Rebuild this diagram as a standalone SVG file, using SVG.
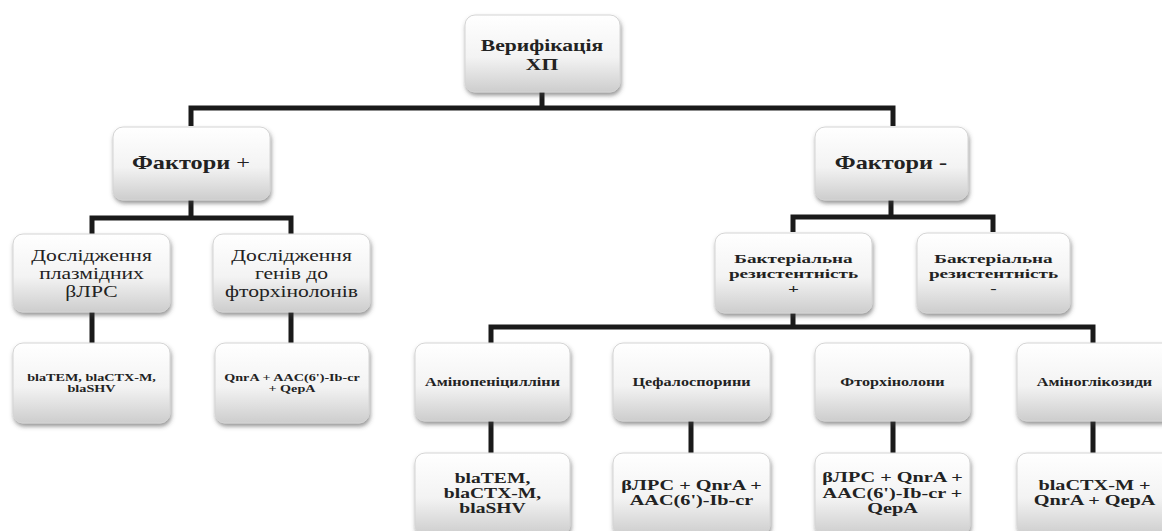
<svg xmlns="http://www.w3.org/2000/svg" width="1162" height="531" viewBox="0 0 1162 531">
<style>
.box{fill:url(#g);stroke:#d4d4d4;stroke-width:1;filter:url(#sh)}
.t{font-family:"Liberation Serif","Times New Roman",serif;fill:#222;text-anchor:middle}
.b{font-weight:bold}
.c{fill:none;stroke:#1a1a1a;stroke-width:5;stroke-linejoin:miter;stroke-linecap:butt}
</style>
<defs>
<linearGradient id="g" x1="0" y1="0" x2="0" y2="1">
<stop offset="0" stop-color="#ffffff"/>
<stop offset="0.55" stop-color="#f3f3f3"/>
<stop offset="1" stop-color="#cdcdcd"/>
</linearGradient>
<filter id="sh" x="-10%" y="-10%" width="120%" height="130%">
<feDropShadow dx="1" dy="3" stdDeviation="2" flood-color="#444" flood-opacity="0.55"/>
</filter>
</defs>
<rect width="1162" height="531" fill="#ffffff"/>
<g id="connectors">
<path class="c" d="M542 92V108M191 126V108H893V126"/>
<path class="c" d="M191 200V218M92 234V218H291V234"/>
<path class="c" d="M891 200V217M793 232V217H993V232"/>
<path class="c" d="M92 312V343M291 312V343"/>
<path class="c" d="M793 313V327M491 343V327H1093V343"/>
<path class="c" d="M491 421V453M691 421V453M893 421V453M1093 421V453"/>
</g>
<g id="n_root">
<rect class="box" x="465" y="15" width="155" height="77" rx="10"/>
<text class="t b" font-size="16" transform="translate(542 0) scale(1.35 1)"><tspan x="0" y="51">Верифікація</tspan><tspan x="0" y="70">ХП</tspan></text>
</g>
<g id="n_fplus">
<rect class="box" x="113" y="127" width="157" height="73" rx="10"/>
<text class="t" font-size="18" transform="translate(191 0) scale(1.35 1)"><tspan x="0" y="169"><tspan class="b">Фактори</tspan> +</tspan></text>
</g>
<g id="n_fminus">
<rect class="box" x="815" y="127" width="153" height="73" rx="10"/>
<text class="t b" font-size="18" transform="translate(891 0) scale(1.35 1)"><tspan x="0" y="169">Фактори -</tspan></text>
</g>
<g id="n_res1">
<rect class="box" x="13" y="234" width="157" height="78" rx="10"/>
<text class="t" font-size="16" transform="translate(91.5 0) scale(1.35 1)"><tspan x="0" y="261">Дослідження</tspan><tspan x="0" y="279">плазмідних</tspan><tspan x="0" y="297">βЛРС</tspan></text>
</g>
<g id="n_res2">
<rect class="box" x="213" y="234" width="157" height="78" rx="10"/>
<text class="t" font-size="16" transform="translate(291.5 0) scale(1.35 1)"><tspan x="0" y="261">Дослідження</tspan><tspan x="0" y="279">генів до</tspan><tspan x="0" y="297">фторхінолонів</tspan></text>
</g>
<g id="n_bp">
<rect class="box" x="715" y="233" width="157" height="80" rx="10"/>
<text class="t b" font-size="13.5" transform="translate(793.5 0) scale(1.42 1)"><tspan x="0" y="263">Бактеріальна</tspan><tspan x="0" y="278">резистентність</tspan><tspan x="0" y="293">+</tspan></text>
</g>
<g id="n_bm">
<rect class="box" x="917" y="233" width="153" height="80" rx="10"/>
<text class="t b" font-size="13.5" transform="translate(993.5 0) scale(1.42 1)"><tspan x="0" y="263">Бактеріальна</tspan><tspan x="0" y="278">резистентність</tspan><tspan x="0" y="293">-</tspan></text>
</g>
<g id="n_bla1">
<rect class="box" x="13" y="343" width="157" height="80" rx="10"/>
<text class="t b" font-size="10.5" transform="translate(91.5 0) scale(1.35 1)"><tspan x="0" y="381">blaTEM, blaCTX-M,</tspan><tspan x="0" y="392">blaSHV</tspan></text>
</g>
<g id="n_q1">
<rect class="box" x="215" y="343" width="154" height="80" rx="10"/>
<text class="t b" font-size="10.5" transform="translate(292 0) scale(1.35 1)"><tspan x="0" y="381">QnrA + AAC(6')-Ib-cr</tspan><tspan x="0" y="392">+ QepA</tspan></text>
</g>
<g id="n_amp">
<rect class="box" x="415" y="343" width="155" height="78" rx="10"/>
<text class="t b" font-size="12" transform="translate(492.5 0) scale(1.35 1)"><tspan x="0" y="386">Амінопеніцилліни</tspan></text>
</g>
<g id="n_ceph">
<rect class="box" x="613" y="343" width="157" height="78" rx="10"/>
<text class="t b" font-size="12" transform="translate(691.5 0) scale(1.35 1)"><tspan x="0" y="386">Цефалоспорини</tspan></text>
</g>
<g id="n_fq">
<rect class="box" x="815" y="343" width="155" height="78" rx="10"/>
<text class="t b" font-size="12" transform="translate(892.5 0) scale(1.35 1)"><tspan x="0" y="386">Фторхінолони</tspan></text>
</g>
<g id="n_ag">
<rect class="box" x="1017" y="343" width="155" height="78" rx="10"/>
<text class="t b" font-size="12" transform="translate(1094.5 0) scale(1.35 1)"><tspan x="0" y="386">Аміноглікозиди</tspan></text>
</g>
<g id="n_amp2">
<rect class="box" x="415" y="453" width="155" height="82" rx="10"/>
<text class="t b" font-size="14.5" transform="translate(492.5 0) scale(1.35 1)"><tspan x="0" y="483">blaTEM,</tspan><tspan x="0" y="498">blaCTX-M,</tspan><tspan x="0" y="513">blaSHV</tspan></text>
</g>
<g id="n_ceph2">
<rect class="box" x="613" y="453" width="157" height="82" rx="10"/>
<text class="t b" font-size="15" transform="translate(691.5 0) scale(1.35 1)"><tspan x="0" y="490">βЛРС + QnrA +</tspan><tspan x="0" y="505">AAC(6')-Ib-cr</tspan></text>
</g>
<g id="n_fq2">
<rect class="box" x="815" y="453" width="155" height="82" rx="10"/>
<text class="t b" font-size="15" transform="translate(892.5 0) scale(1.35 1)"><tspan x="0" y="482">βЛРС + QnrA +</tspan><tspan x="0" y="498">AAC(6')-Ib-cr +</tspan><tspan x="0" y="513">QepA</tspan></text>
</g>
<g id="n_ag2">
<rect class="box" x="1017" y="453" width="155" height="82" rx="10"/>
<text class="t b" font-size="15" transform="translate(1094.5 0) scale(1.35 1)"><tspan x="0" y="490">blaCTX-M +</tspan><tspan x="0" y="505">QnrA + QepA</tspan></text>
</g>
</svg>
